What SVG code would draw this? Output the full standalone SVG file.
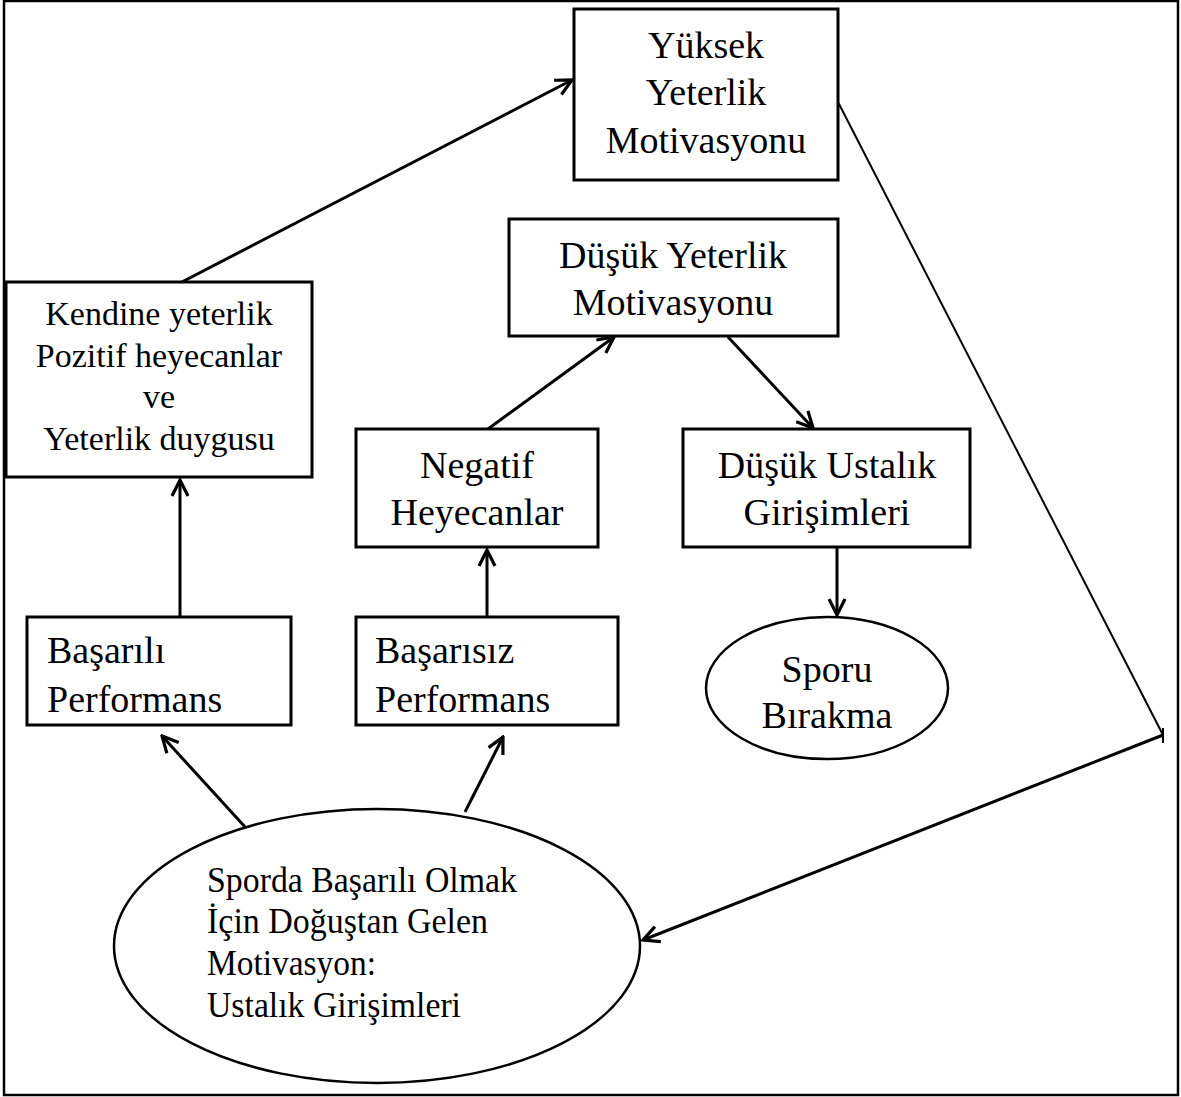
<svg xmlns="http://www.w3.org/2000/svg" width="1181" height="1097" viewBox="0 0 1181 1097">
<style>
.box{fill:#fff;stroke:#000;stroke-width:3}
.ell{fill:#fff;stroke:#000;stroke-width:2.5}
.t{font-family:"Liberation Serif","Times New Roman",serif;font-size:38px;fill:#000}
.c{text-anchor:middle}
.s{font-size:34px}
.m{font-size:36px}
.ln{stroke:#000;stroke-width:3;fill:none}
.thin{stroke:#000;stroke-width:2;fill:none}
</style>
<defs>
<marker id="ah" viewBox="0 0 20 20" refX="18" refY="10" markerWidth="20" markerHeight="20" markerUnits="userSpaceOnUse" orient="auto">
<path d="M2,2 L18,10 L2,18" fill="none" stroke="#000" stroke-width="3.2"/>
</marker>
</defs>
<rect x="0" y="0" width="1181" height="1097" fill="#fff"/>
<rect x="4" y="1" width="1174" height="1094" fill="none" stroke="#000" stroke-width="2.5"/>

<g id="connectors">
<line class="ln" x1="180" y1="283" x2="572" y2="80" marker-end="url(#ah)"/>
<line class="ln" x1="180" y1="617" x2="180" y2="480" marker-end="url(#ah)"/>
<line class="ln" x1="487" y1="617" x2="487" y2="550" marker-end="url(#ah)"/>
<line class="ln" x1="488" y1="429" x2="614" y2="337" marker-end="url(#ah)"/>
<line class="ln" x1="728" y1="337" x2="813" y2="428" marker-end="url(#ah)"/>
<line class="ln" x1="837" y1="547" x2="837" y2="615" marker-end="url(#ah)"/>
<line class="ln" x1="246" y1="828" x2="162" y2="736" marker-end="url(#ah)"/>
<line class="ln" x1="465" y1="812" x2="503" y2="737" marker-end="url(#ah)"/>
<line class="thin" x1="838" y1="102" x2="1163" y2="735"/>
<line class="thin" x1="1163" y1="728" x2="1163" y2="743"/>
<line class="ln" x1="1163" y1="735" x2="643" y2="940" marker-end="url(#ah)"/>
</g>

<g id="yuksek">
<rect class="box" x="574" y="9" width="264" height="171"/>
<text class="t c" x="706" y="58">Yüksek</text>
<text class="t c" x="706" y="105">Yeterlik</text>
<text class="t c" x="706" y="153">Motivasyonu</text>
</g>

<g id="dusuk-yeterlik">
<rect class="box" x="509" y="219" width="329" height="117"/>
<text class="t c" x="673" y="268">Düşük Yeterlik</text>
<text class="t c" x="673" y="315">Motivasyonu</text>
</g>

<g id="kendine">
<rect class="box" x="6" y="282" width="306" height="195"/>
<text class="t s c" x="159" y="325">Kendine yeterlik</text>
<text class="t s c" x="159" y="367">Pozitif heyecanlar</text>
<text class="t s c" x="159" y="408">ve</text>
<text class="t s c" x="159" y="450">Yeterlik duygusu</text>
</g>

<g id="negatif">
<rect class="box" x="356" y="429" width="242" height="118"/>
<text class="t c" x="477" y="478">Negatif</text>
<text class="t c" x="477" y="525">Heyecanlar</text>
</g>

<g id="dusuk-ustalik">
<rect class="box" x="683" y="429" width="287" height="118"/>
<text class="t c" x="827" y="478">Düşük Ustalık</text>
<text class="t c" x="827" y="525">Girişimleri</text>
</g>

<g id="basarili">
<rect class="box" x="27" y="617" width="264" height="108"/>
<text class="t" x="47" y="663">Başarılı</text>
<text class="t" x="47" y="712">Performans</text>
</g>

<g id="basarisiz">
<rect class="box" x="356" y="617" width="262" height="108"/>
<text class="t" x="375" y="663">Başarısız</text>
<text class="t" x="375" y="712">Performans</text>
</g>

<g id="sporu-birakma">
<ellipse class="ell" cx="827" cy="688" rx="121" ry="71"/>
<text class="t c" x="827" y="682">Sporu</text>
<text class="t c" x="827" y="728">Bırakma</text>
</g>

<g id="dogustan">
<ellipse class="ell" cx="377" cy="946" rx="263" ry="137"/>
<text class="t m" x="207" y="892" textLength="310" lengthAdjust="spacingAndGlyphs">Sporda Başarılı Olmak</text>
<text class="t m" x="207" y="933" textLength="281" lengthAdjust="spacingAndGlyphs">İçin Doğuştan Gelen</text>
<text class="t m" x="207" y="975" textLength="169" lengthAdjust="spacingAndGlyphs">Motivasyon:</text>
<text class="t m" x="207" y="1017" textLength="254" lengthAdjust="spacingAndGlyphs">Ustalık Girişimleri</text>
</g>
</svg>
